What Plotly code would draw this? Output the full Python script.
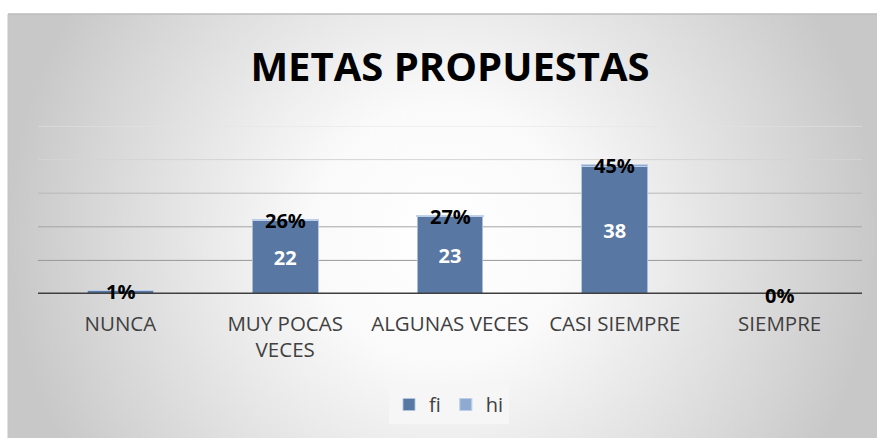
import plotly.graph_objects as go

# ---------------- data ----------------
categories = ["NUNCA", "MUY POCAS VECES", "ALGUNAS VECES", "CASI SIEMPRE", "SIEMPRE"]
tick_labels = ["NUNCA", "MUY POCAS<br>VECES", "ALGUNAS VECES", "CASI SIEMPRE", "SIEMPRE"]
fi_values = [1, 22, 23, 38, 0]
hi_values = [0.01, 0.26, 0.27, 0.45, 0.00]
y_ticks = [10, 20, 30, 40, 50]
title_text = "METAS PROPUESTAS"

# ---------------- style ----------------
W, H = 877, 438
FONT = "Open Sans"
FI_COLOR = "#5878A3"
HI_COLOR = "#8FAAD1"
TEXT_GRAY = "#404040"
grid_colors = ["#979797", "#A6A6A6", "#B9B9B9", "#D4D4D4", "#E3E3E3"]

# plot area in pixels
PL, PR, PT, PB = 38, 862, 126, 294
FRAME_L, FRAME_T = 8, 14

fig = go.Figure()

# background panel with radial gradient (decoration, own axes).
# square bounding box (in pixels) so the radial gradient is circular
cx, cy, r = (FRAME_L + W) / 2, H - 235, (W - FRAME_L) / 2
fig.add_trace(go.Scatter(
    x=[cx - r, cx + r, cx + r, cx - r, cx - r],
    y=[cy + r, cy + r, cy - r, cy - r, cy + r],
    mode="lines", fill="toself",
    line=dict(color="rgba(0,0,0,0)", width=0),
    fillgradient=dict(type="radial",
                      colorscale=[[0, "#FFFFFF"], [0.3, "#FAFAFA"], [0.56, "#E8E8E8"],
                                  [0.8, "#D7D7D7"], [1, "#C8C8C8"]]),
    hoverinfo="skip", showlegend=False, xaxis="x", yaxis="y",
))

# stacked bars
fig.add_trace(go.Bar(
    name="fi", x=categories, y=fi_values,
    marker=dict(color=FI_COLOR, line=dict(color="rgba(175,195,222,0.9)", width=1)),
    text=[str(v) for v in fi_values], textposition="inside",
    insidetextanchor="middle", textangle=0,
    textfont=dict(family=FONT, size=20, color="white", weight="bold"),
    hoverinfo="skip", xaxis="x2", yaxis="y2",
))
fig.add_trace(go.Bar(
    name="hi", x=categories, y=hi_values,
    marker=dict(color=HI_COLOR, line=dict(color="rgba(190,208,232,0.95)", width=1.2)),
    textposition="none",
    hoverinfo="skip", xaxis="x2", yaxis="y2",
))

# hi percentage labels centred on the top of each stack
annotations = []
for c, f, h in zip(categories, fi_values, hi_values):
    annotations.append(dict(
        x=c, y=f + h, xref="x2", yref="y2", text=f"{h:.0%}", showarrow=False,
        xanchor="center", yanchor="middle", yshift=-1,
        font=dict(family=FONT, size=20, color="black", weight="bold"),
    ))

n = len(categories)
shapes = []
for v, c in zip(y_ticks, grid_colors):
    shapes.append(dict(type="line", xref="x2", yref="y2", x0=-0.5, x1=n - 0.5, y0=v, y1=v,
                       line=dict(color=c, width=1), layer="below"))
# baseline
shapes.append(dict(type="line", xref="x2", yref="y2", x0=-0.5, x1=n - 0.5, y0=0, y1=0,
                   line=dict(color="#3F3F3F", width=3), layer="above"))
# white strips outside the chart frame and frame edges
shapes.append(dict(type="rect", xref="paper", yref="paper", x0=0, x1=1, y0=1 - FRAME_T / H, y1=1,
                   fillcolor="white", line=dict(width=0), layer="above"))
shapes.append(dict(type="rect", xref="paper", yref="paper", x0=0, x1=FRAME_L / W, y0=0, y1=1,
                   fillcolor="white", line=dict(width=0), layer="above"))
shapes.append(dict(type="line", xref="paper", yref="paper", x0=FRAME_L / W, x1=1,
                   y0=1 - FRAME_T / H, y1=1 - FRAME_T / H,
                   line=dict(color="#BDBDBD", width=1.5), layer="above"))
shapes.append(dict(type="line", xref="paper", yref="paper", x0=FRAME_L / W, x1=FRAME_L / W,
                   y0=0, y1=1 - FRAME_T / H,
                   line=dict(color="#C4C4C4", width=1), layer="above"))

fig.update_layout(
    width=W, height=H,
    margin=dict(l=0, r=0, t=0, b=0),
    paper_bgcolor="white", plot_bgcolor="rgba(0,0,0,0)",
    barmode="stack", bargap=0.6,
    uniformtext=dict(minsize=20, mode="hide"),
    title=dict(text=title_text, xref="container", yref="container",
               x=450 / W, y=1 - 67 / H, xanchor="center", yanchor="middle",
               font=dict(family=FONT, size=40, color="black", weight="bold")),
    xaxis=dict(domain=[0, 1], range=[0, W], visible=False, fixedrange=True),
    yaxis=dict(domain=[0, 1], range=[0, H], visible=False, fixedrange=True),
    xaxis2=dict(domain=[PL / W, PR / W], anchor="y2", showgrid=False, zeroline=False,
                range=[-0.5, n - 0.5],
                tickmode="array", tickvals=categories, ticktext=tick_labels,
                tickfont=dict(family=FONT, size=20.5, color=TEXT_GRAY),
                ticks="", showline=False, ticklabelstandoff=15),
    yaxis2=dict(domain=[1 - PB / H, 1 - PT / H], anchor="x2", range=[0, 50],
                showgrid=False, zeroline=False, showticklabels=False, ticks=""),
    shapes=shapes,
    annotations=annotations,
    legend=dict(orientation="h", x=449 / W, xanchor="center", y=1 - 385 / H, yanchor="top",
                bgcolor="#F6F6F6", font=dict(family=FONT, size=20, color=TEXT_GRAY),
                itemwidth=30, traceorder="normal", tracegroupgap=0),
    showlegend=True,
)

fig.write_html("out.html", config={"displayModeBar": False},
               post_script="document.body.style.margin='0';")
